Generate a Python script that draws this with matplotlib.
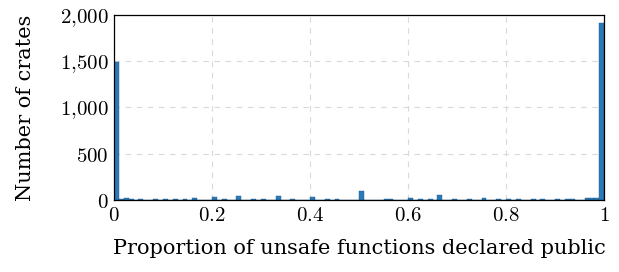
import matplotlib
matplotlib.use("Agg")
import matplotlib.pyplot as plt
from matplotlib.ticker import FuncFormatter

plt.rcParams["mathtext.fontset"] = "cm"

# proportion of unsafe functions that are public -> number of crates
proportion = [0.0, 0.01, 0.02, 0.03, 0.05, 0.08, 0.1, 0.12, 0.14, 0.166, 0.2, 0.22,
              0.25, 0.28, 0.3, 0.333, 0.36, 0.4, 0.43, 0.45, 0.5, 0.55, 0.57,
              0.6, 0.62, 0.64, 0.666, 0.7, 0.72, 0.75, 0.78, 0.8, 0.83, 0.857,
              0.875, 0.9, 0.92, 0.94, 0.96, 0.97, 0.98, 1.0]
crates = [1490, 15, 18, 12, 8, 6, 10, 8, 6, 22, 28, 6,
          40, 8, 10, 47, 8, 28, 6, 8, 100, 8, 6,
          20, 8, 6, 57, 8, 6, 22, 8, 12, 12, 10,
          12, 10, 12, 14, 16, 20, 22, 1910]

xticks = [0, 0.2, 0.4, 0.6, 0.8, 1]
yticks = [0, 500, 1000, 1500, 2000]

fig = plt.figure(figsize=(6.19, 2.72), dpi=100)
ax = fig.add_axes([0.184, 0.265, 0.792, 0.68])

ax.hist(proportion, bins=100, range=(0, 1), weights=crates,
        color="#2a7ab8", edgecolor="#1f5f94", linewidth=0.3, zorder=3)

ax.set_xlim(0, 1)
ax.set_ylim(0, 2000)
ax.set_xticks(xticks)
ax.set_yticks(yticks)
ax.xaxis.set_major_formatter(FuncFormatter(
    lambda v, p: "$%d$" % v if v in (0, 1) else "$%.1f$" % v))
ax.yaxis.set_major_formatter(FuncFormatter(
    lambda v, p: "$" + format(int(v), ",").replace(",", "{,}") + "$"))
ax.tick_params(length=0, labelsize=15, pad=4)
ax.grid(True, ls=(0, (5, 5)), color="#d9d9d9", lw=0.8, zorder=0)
for s in ax.spines.values():
    s.set_linewidth(0.9)
    s.set_zorder(4)

ax.set_xlabel("Proportion of unsafe functions declared public",
              family="DejaVu Serif", fontsize=15, labelpad=10)
ax.set_ylabel("Number of crates", family="DejaVu Serif", fontsize=15, labelpad=18)

fig.savefig("out.png", dpi=100)
